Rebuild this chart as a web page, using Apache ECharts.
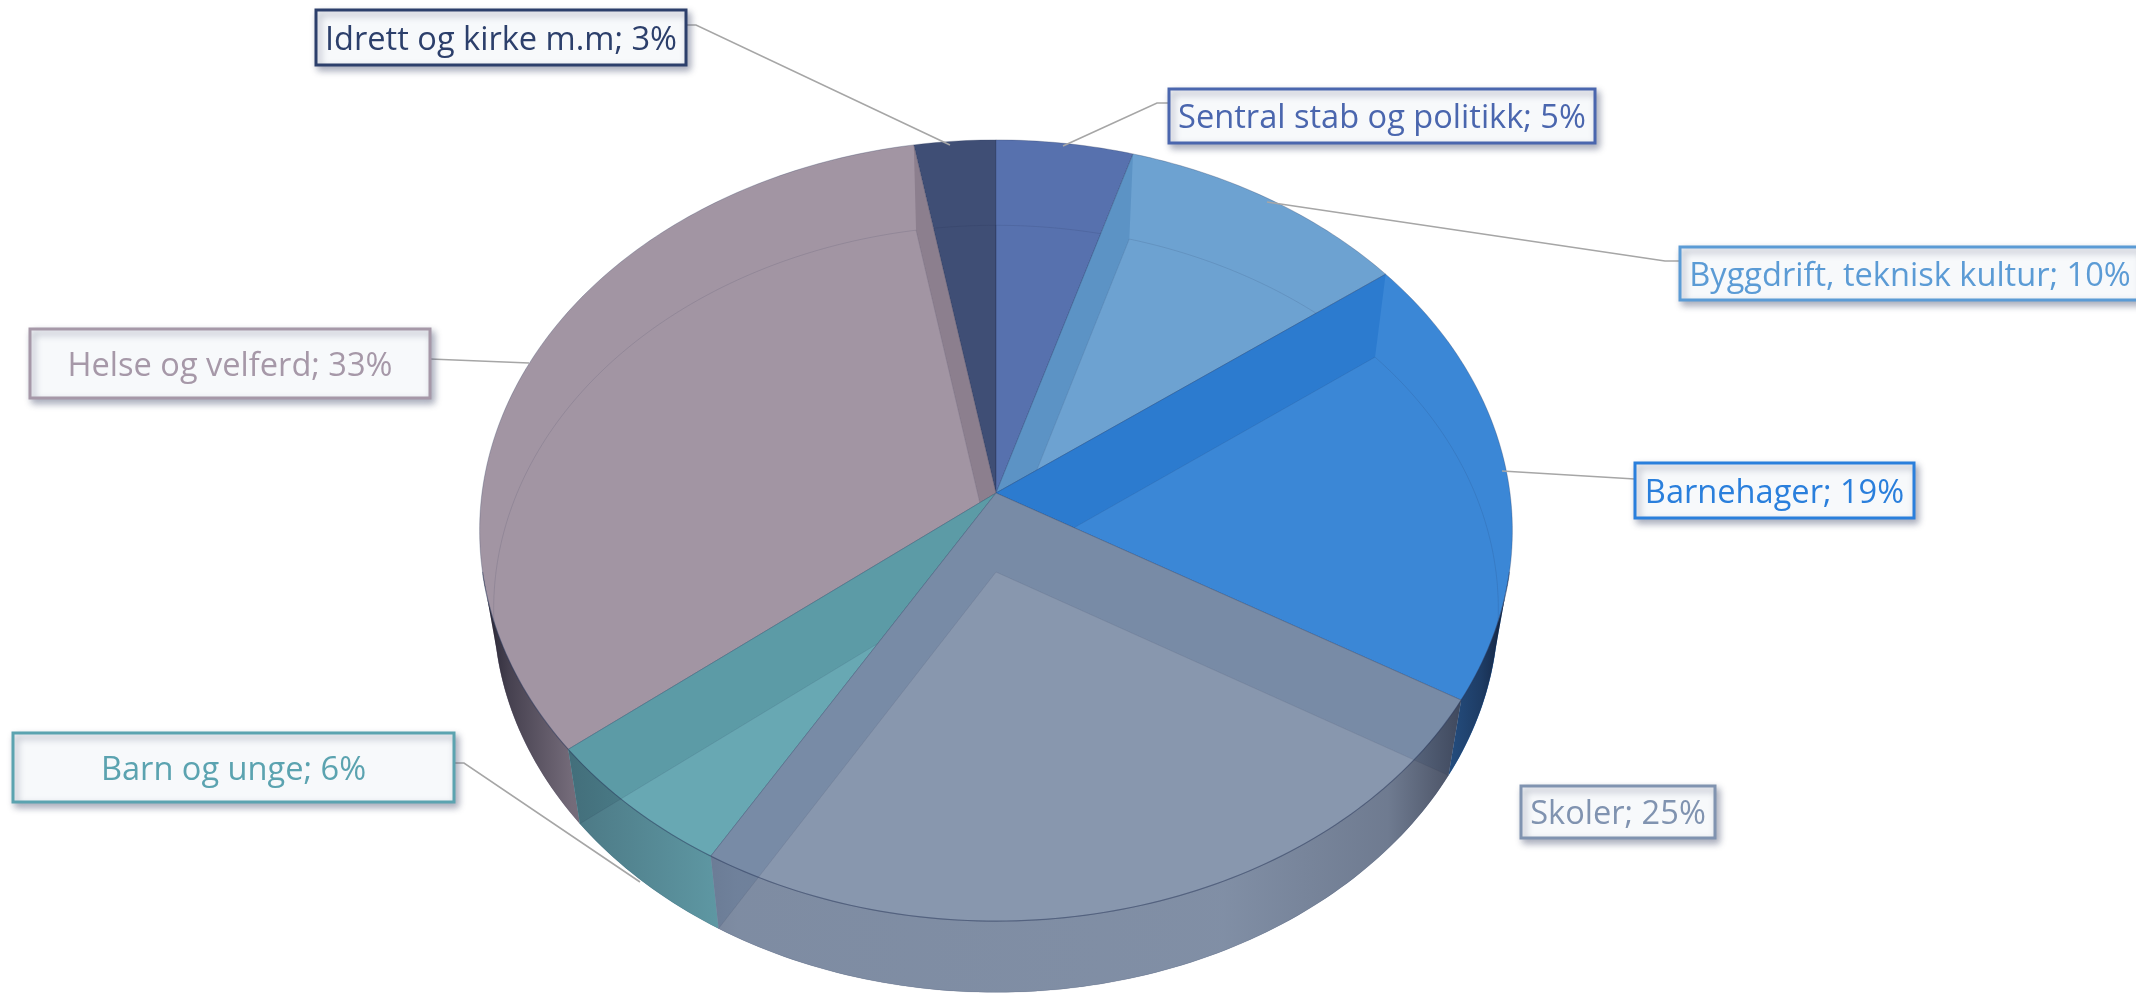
<!DOCTYPE html>
<html>
<head>
<meta charset="utf-8">
<title>Fordeling</title>
<script src="https://cdn.jsdelivr.net/npm/echarts@6/dist/echarts.min.js"></script>
<style>
  html, body { margin: 0; padding: 0; background: #fff; }
  #chart { width: 2136px; height: 993px; }
</style>
</head>
<body>
<div id="chart"></div>
<script>
// data, clockwise from 12 o'clock
const categories = ['Sentral stab og politikk', 'Byggdrift, teknisk kultur', 'Barnehager', 'Skoler', 'Barn og unge', 'Helse og velferd', 'Idrett og kirke m.m'];
const shares = [4.7, 10.1, 18.7, 25.0, 5.8, 32.9, 2.8];

const faceColors = ['#5771ae', '#6da2d1', '#3b87d6', '#8897ae', '#68a8b3', '#a295a3', '#3f4e75'];
const wallColors = ['#4e68a5', '#5c93c5', '#2c7bcf', '#788ba6', '#5c9ba6', '#8c7f8e', '#3a4a70'];
const textColors = ['#4a66ae', '#5b9bd5', '#2a7fdc', '#8093b0', '#5ba3b0', '#a698a8', '#2c3f6b'];

// label box per category: x, y, w, h
const boxes = [
  [1169, 89, 426, 54],
  [1680, 247, 460, 53],
  [1635, 463, 279, 55],
  [1521, 786, 194, 52],
  [13, 733, 441, 69],
  [30, 329, 400, 69],
  [316, 10, 370, 55]
];
// leader lines, box side to pie edge
const leaders = [
  [[1169, 103], [1157, 103], [1063, 146]],
  [[1680, 261], [1665, 261], [1267, 202]],
  [[1635, 479], [1502, 471]],
  null,
  [[454, 763], [464, 763], [640, 882]],
  [[430, 359], [529, 363]],
  [[686, 25], [696, 25], [950, 145]]
];

// perspective of the disc
const topFace = { cx: 996, cy: 493, a: 514, b: 387 };
const baseFace = { cx: 996, cy: 572, a: 500, b: 380 };
const persp = 0.096;
const wallStartV = 0.2;

const total = shares.reduce((s, v) => s + v, 0);
let acc = 0;
const sectors = shares.map(function (v, i) {
  const s = { i: i, start: acc / total * 360, end: (acc + v) / total * 360 };
  acc += v;
  return s;
});

function project(plane, deg) {
  const t = deg * Math.PI / 180;
  const u = Math.sin(t), v = -Math.cos(t);
  const w = 1 - persp * v;
  return [plane.cx + plane.a * u / w, plane.cy + plane.b * v / w];
}
function arc(plane, from, to) {
  const pts = [];
  const n = Math.max(2, Math.ceil(Math.abs(to - from)));
  for (let k = 0; k <= n; k++) {
    pts.push(project(plane, from + (to - from) * k / n));
  }
  return pts;
}
function sectorPts(plane, s) {
  return [[plane.cx, plane.cy]].concat(arc(plane, s.start, s.end));
}
function wallQuad(deg) {
  return [[topFace.cx, topFace.cy], project(topFace, deg), project(baseFace, deg), [baseFace.cx, baseFace.cy]];
}
// front angles where the outer wall shows
const wallFrom = 90 + Math.asin(wallStartV) * 180 / Math.PI;
const wallTo = 360 - wallFrom + 0;

const shade = new echarts.graphic.LinearGradient(479, 0, 1512, 0, [
  { offset: 0, color: 'rgba(10,10,25,0.85)' },
  { offset: 0.03, color: 'rgba(10,10,25,0.6)' },
  { offset: 0.09, color: 'rgba(10,10,25,0.3)' },
  { offset: 0.25, color: 'rgba(10,10,25,0.08)' },
  { offset: 0.72, color: 'rgba(10,10,25,0.06)' },
  { offset: 0.88, color: 'rgba(10,10,25,0.2)' },
  { offset: 0.97, color: 'rgba(10,10,25,0.6)' },
  { offset: 1, color: 'rgba(10,10,25,0.85)' }
], true);

function renderSlice(params, api) {
  const s = sectors[api.value(0)];
  const face = faceColors[s.i], wall = wallColors[s.i];
  const children = [];
  const add = function (pts, style) {
    children.push({ type: 'polygon', shape: { points: pts }, style: style });
  };
  const from = Math.max(s.start, wallFrom), to = Math.min(s.end, wallTo);
  const hasRim = to > from;
  let rimPts = null;
  if (hasRim) {
    rimPts = arc(topFace, from, to).concat(arc(baseFace, from, to).reverse());
    add(rimPts, { fill: face });
  }
  add(sectorPts(topFace, s), { fill: face });
  add(wallQuad(s.start), { fill: wall });
  add(wallQuad(s.end), { fill: wall });
  add(sectorPts(baseFace, s), { fill: face, stroke: 'rgba(30,40,70,0.12)', lineWidth: 1 });
  if (hasRim) {
    add(rimPts, { fill: shade });
  }
  add(sectorPts(topFace, s), { fill: 'rgba(255,255,255,0)', stroke: 'rgba(40,55,90,0.28)', lineWidth: 1 });
  if (hasRim) {
    children.push({
      type: 'polyline',
      shape: { points: arc(topFace, from, to) },
      style: { fill: 'none', stroke: 'rgba(40,55,90,0.35)', lineWidth: 1.2 }
    });
  }
  return { type: 'group', children: children };
}

// back slices first
const paintOrder = sectors.slice().sort(function (p, q) {
  const depth = function (s) { return -Math.cos((s.start + s.end) / 2 * Math.PI / 180); };
  return depth(p) - depth(q);
}).map(function (s) { return [s.i]; });

const graphics = [];
categories.forEach(function (name, i) {
  if (leaders[i]) {
    graphics.push({
      type: 'polyline', z: 10,
      shape: { points: leaders[i] },
      style: { fill: 'none', stroke: '#a6a6a6', lineWidth: 1.6 }
    });
  }
  const b = boxes[i];
  graphics.push({
    type: 'rect', z: 11,
    shape: { x: b[0], y: b[1], width: b[2], height: b[3] },
    style: {
      fill: '#f7f9fb', stroke: textColors[i], lineWidth: 3,
      shadowBlur: 7, shadowOffsetX: 3, shadowOffsetY: 4, shadowColor: 'rgba(70,80,110,0.45)'
    }
  });
  graphics.push({
    type: 'text', z: 12,
    style: {
      x: b[0] + b[2] / 2, y: b[1] + b[3] / 2 + 3,
      text: name + '; ' + Math.round(shares[i]) + '%',
      align: 'center', verticalAlign: 'middle',
      font: '32.6px "Open Sans"', fill: textColors[i]
    }
  });
});

const chart = echarts.init(document.getElementById('chart'), null, { renderer: 'canvas' });
chart.setOption({
  backgroundColor: '#ffffff',
  animation: false,
  series: [{
    type: 'custom',
    coordinateSystem: 'none',
    renderItem: renderSlice,
    data: paintOrder,
    silent: true
  }],
  graphic: graphics
});
</script>
</body>
</html>
